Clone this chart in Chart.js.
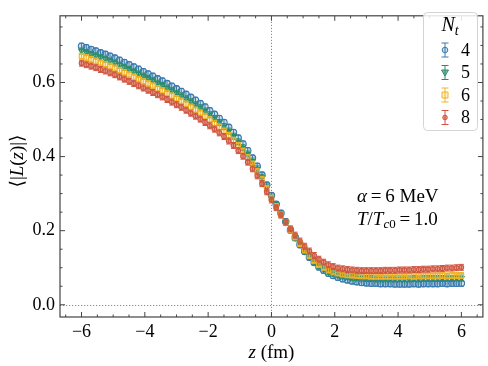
<!DOCTYPE html>
<html>
<head>
<meta charset="utf-8">
<script src="https://cdn.jsdelivr.net/npm/chart.js@4.4.1/dist/chart.umd.min.js"></script>
<style>
  body { margin: 0; background: #fff; }
</style>
</head>
<body>
<canvas id="chart" width="488" height="366"></canvas>
<script>
// z positions (fm)
var zValues = [-6.00, -5.85, -5.70, -5.55, -5.40, -5.25, -5.10, -4.95, -4.80, -4.65,
  -4.50, -4.35, -4.20, -4.05, -3.90, -3.75, -3.60, -3.45, -3.30, -3.15,
  -3.00, -2.85, -2.70, -2.55, -2.40, -2.25, -2.10, -1.95, -1.80, -1.65,
  -1.50, -1.35, -1.20, -1.05, -0.90, -0.75, -0.60, -0.45, -0.30, -0.15,
  0.00, 0.15, 0.30, 0.45, 0.60, 0.75, 0.90, 1.05, 1.20, 1.35,
  1.50, 1.65, 1.80, 1.95, 2.10, 2.25, 2.40, 2.55, 2.70, 2.85,
  3.00, 3.15, 3.30, 3.45, 3.60, 3.75, 3.90, 4.05, 4.20, 4.35,
  4.50, 4.65, 4.80, 4.95, 5.10, 5.25, 5.40, 5.55, 5.70, 5.85, 6.00];

// <|L(z)|> for each N_t
var nt4 = [0.698, 0.694, 0.689, 0.685, 0.680, 0.676, 0.671, 0.666, 0.660, 0.654,
  0.648, 0.642, 0.636, 0.629, 0.623, 0.617, 0.610, 0.604, 0.597, 0.590,
  0.583, 0.576, 0.568, 0.560, 0.552, 0.543, 0.534, 0.524, 0.514, 0.503,
  0.492, 0.479, 0.465, 0.450, 0.434, 0.416, 0.396, 0.374, 0.350, 0.323,
  0.295, 0.271, 0.247, 0.224, 0.202, 0.181, 0.162, 0.144, 0.128, 0.114,
  0.102, 0.093, 0.085, 0.079, 0.074, 0.070, 0.067, 0.064, 0.062, 0.060,
  0.059, 0.058, 0.058, 0.057, 0.057, 0.057, 0.056, 0.056, 0.056, 0.056,
  0.057, 0.056, 0.057, 0.057, 0.057, 0.057, 0.058, 0.057, 0.058, 0.058, 0.058];

var nt5 = [0.685, 0.681, 0.676, 0.672, 0.667, 0.663, 0.658, 0.653, 0.647, 0.641,
  0.635, 0.629, 0.623, 0.617, 0.611, 0.605, 0.598, 0.592, 0.585, 0.578,
  0.571, 0.564, 0.556, 0.548, 0.540, 0.532, 0.523, 0.513, 0.503, 0.492,
  0.481, 0.469, 0.455, 0.440, 0.424, 0.407, 0.388, 0.367, 0.344, 0.318,
  0.291, 0.268, 0.245, 0.223, 0.202, 0.182, 0.164, 0.146, 0.131, 0.117,
  0.106, 0.097, 0.090, 0.085, 0.081, 0.078, 0.076, 0.074, 0.073, 0.072,
  0.071, 0.071, 0.070, 0.070, 0.070, 0.070, 0.070, 0.070, 0.070, 0.070,
  0.071, 0.070, 0.071, 0.071, 0.071, 0.071, 0.071, 0.072, 0.071, 0.072, 0.072];

var nt6 = [0.671, 0.667, 0.662, 0.658, 0.653, 0.649, 0.644, 0.639, 0.633, 0.627,
  0.621, 0.615, 0.609, 0.603, 0.597, 0.591, 0.584, 0.578, 0.571, 0.564,
  0.557, 0.550, 0.542, 0.534, 0.526, 0.518, 0.509, 0.500, 0.490, 0.480,
  0.469, 0.457, 0.444, 0.430, 0.415, 0.398, 0.380, 0.360, 0.338, 0.314,
  0.288, 0.265, 0.243, 0.222, 0.202, 0.183, 0.165, 0.148, 0.133, 0.120,
  0.109, 0.101, 0.094, 0.089, 0.086, 0.083, 0.081, 0.080, 0.079, 0.078,
  0.078, 0.077, 0.077, 0.077, 0.077, 0.077, 0.077, 0.077, 0.077, 0.078,
  0.077, 0.078, 0.078, 0.078, 0.078, 0.078, 0.079, 0.078, 0.079, 0.079, 0.079];

var nt8 = [0.652, 0.648, 0.644, 0.640, 0.635, 0.631, 0.626, 0.621, 0.615, 0.609,
  0.603, 0.597, 0.591, 0.585, 0.579, 0.573, 0.567, 0.561, 0.554, 0.547,
  0.540, 0.533, 0.525, 0.517, 0.509, 0.501, 0.492, 0.483, 0.474, 0.464,
  0.454, 0.442, 0.430, 0.416, 0.401, 0.385, 0.367, 0.348, 0.327, 0.305,
  0.283, 0.262, 0.242, 0.223, 0.205, 0.188, 0.172, 0.158, 0.145, 0.133,
  0.123, 0.115, 0.108, 0.103, 0.099, 0.097, 0.095, 0.094, 0.093, 0.092,
  0.092, 0.092, 0.092, 0.092, 0.093, 0.093, 0.093, 0.094, 0.094, 0.094,
  0.095, 0.095, 0.096, 0.096, 0.097, 0.097, 0.098, 0.099, 0.099, 0.100, 0.101];

var ntLabels = ['4', '5', '6', '8'];
var errSizes = [0.008, 0.008, 0.008, 0.008];
var xTickValues = [-6, -4, -2, 0, 2, 4, 6];
var yTickValues = [0.0, 0.2, 0.4, 0.6];

var colors = ['#3a7ab0', '#2a8d69', '#f0b325', '#cf5540'];
var fills = ['rgba(58,122,176,0.25)', 'rgba(42,141,105,0.6)', 'rgba(240,179,37,0.2)', 'rgba(207,85,64,0.6)'];
var serif = "'Liberation Serif', 'DejaVu Serif', serif";

function points(ys) {
    return ys.map(function (y, i) { return { x: zValues[i], y: y }; });
}

// draw a list of text pieces with their own fonts, centred or left aligned
function drawRuns(ctx, runs, x, y, align) {
    var total = 0;
    runs.forEach(function (r) { ctx.font = r.f; total += ctx.measureText(r.t).width; });
    var cx = align === 'center' ? x - total / 2 : x;
    ctx.textAlign = 'left';
    ctx.textBaseline = 'alphabetic';
    runs.forEach(function (r) {
        ctx.font = r.f;
        ctx.fillText(r.t, cx, y + (r.dy || 0));
        cx += ctx.measureText(r.t).width;
    });
}

function drawMarker(ctx, i, x, y) {
    ctx.save();
    ctx.strokeStyle = colors[i];
    ctx.fillStyle = fills[i];
    ctx.lineWidth = 1;
    ctx.beginPath();
    if (i === 0) {
        ctx.arc(x, y, 2.8, 0, Math.PI * 2);
    } else if (i === 1) {
        ctx.moveTo(x - 3.5, y - 2.5); ctx.lineTo(x + 3.5, y - 2.5); ctx.lineTo(x, y + 3.5); ctx.closePath();
    } else if (i === 2) {
        ctx.rect(x - 3, y - 3, 6, 6);
    } else {
        ctx.arc(x, y, 2.3, 0, Math.PI * 2);
    }
    ctx.fill();
    ctx.stroke();
    ctx.restore();
}

var decorPlugin = {
    id: 'decor',
    beforeDatasetsDraw: function (chart) {
        var ctx = chart.ctx, a = chart.chartArea;
        var xs = chart.scales.x, ys = chart.scales.y;
        ctx.save();
        ctx.strokeStyle = '#8a8a8a';
        ctx.lineWidth = 1;
        ctx.setLineDash([1.2, 1.8]);
        var x0 = Math.round(xs.getPixelForValue(0)) + 0.5;
        var y0 = Math.round(ys.getPixelForValue(0)) + 0.5;
        ctx.beginPath();
        ctx.moveTo(x0, a.top); ctx.lineTo(x0, a.bottom);
        ctx.moveTo(a.left, y0); ctx.lineTo(a.right, y0);
        ctx.stroke();
        ctx.restore();
    },
    beforeDatasetDraw: function (chart, args) {
        // error bars under the markers
        var ctx = chart.ctx, ys = chart.scales.y;
        var i = args.index, err = errSizes[i];
        var data = chart.data.datasets[i].data;
        ctx.save();
        ctx.strokeStyle = colors[i];
        ctx.lineWidth = 1;
        ctx.beginPath();
        args.meta.data.forEach(function (p, k) {
            var yTop = ys.getPixelForValue(data[k].y + err);
            var yBot = ys.getPixelForValue(data[k].y - err);
            ctx.moveTo(p.x, yTop); ctx.lineTo(p.x, yBot);
            ctx.moveTo(p.x - 2.5, yTop); ctx.lineTo(p.x + 2.5, yTop);
            ctx.moveTo(p.x - 2.5, yBot); ctx.lineTo(p.x + 2.5, yBot);
        });
        ctx.stroke();
        ctx.restore();
    },
    afterDraw: function (chart) {
        var ctx = chart.ctx, a = chart.chartArea;
        var xs = chart.scales.x, ys = chart.scales.y;
        ctx.save();

        // frame
        ctx.strokeStyle = '#444';
        ctx.lineWidth = 1.2;
        ctx.strokeRect(a.left, a.top, a.right - a.left, a.bottom - a.top);

        // inward ticks on all four sides
        ctx.lineWidth = 1;
        ctx.beginPath();
        for (var v = -6.5; v <= 6.51; v += 0.5) {
            var px = xs.getPixelForValue(v);
            var len = Math.abs(v % 2) < 1e-6 ? 5 : 2.5;
            ctx.moveTo(px, a.bottom); ctx.lineTo(px, a.bottom - len);
            ctx.moveTo(px, a.top); ctx.lineTo(px, a.top + len);
        }
        for (var w = 0; w <= 15; w++) {
            var val = w * 0.05;
            var py = ys.getPixelForValue(val);
            var ln = w % 4 === 0 ? 5 : 2.5;
            ctx.moveTo(a.left, py); ctx.lineTo(a.left + ln, py);
            ctx.moveTo(a.right, py); ctx.lineTo(a.right - ln, py);
        }
        ctx.stroke();

        ctx.fillStyle = '#000';
        // axis titles
        drawRuns(ctx, [
            { t: 'z', f: 'italic 19px ' + serif },
            { t: ' (fm)', f: '19px ' + serif }
        ], (a.left + a.right) / 2, 358, 'center');

        ctx.save();
        ctx.translate(23, 161);
        ctx.rotate(-Math.PI / 2);
        drawRuns(ctx, [
            { t: '\u27e8|', f: '19px ' + serif },
            { t: 'L', f: 'italic 19px ' + serif },
            { t: '(', f: '19px ' + serif },
            { t: 'z', f: 'italic 19px ' + serif },
            { t: ')|\u27e9', f: '19px ' + serif }
        ], 0, 0, 'center');
        ctx.restore();

        // annotation
        drawRuns(ctx, [
            { t: '\u03b1', f: 'italic 19px ' + serif },
            { t: '\u2009=\u20096 MeV', f: '19px ' + serif }
        ], 357, 202, 'left');
        drawRuns(ctx, [
            { t: 'T', f: 'italic 19px ' + serif },
            { t: '/', f: '19px ' + serif },
            { t: 'T', f: 'italic 19px ' + serif },
            { t: 'c', f: 'italic 13px ' + serif, dy: 3 },
            { t: '0', f: '13px ' + serif, dy: 3 },
            { t: '\u2009=\u20091.0', f: '19px ' + serif }
        ], 357, 225, 'left');

        // legend
        var lx = 423, ly = 12, lw = 54, lh = 118;
        ctx.fillStyle = 'rgba(255,255,255,0.85)';
        ctx.strokeStyle = '#d4d4d4';
        ctx.lineWidth = 1;
        ctx.beginPath();
        ctx.roundRect(lx + 0.5, ly + 0.5, lw, lh, 4);
        ctx.fill();
        ctx.stroke();
        ctx.fillStyle = '#000';
        drawRuns(ctx, [
            { t: 'N', f: 'italic 20px ' + serif },
            { t: 't', f: 'italic 14px ' + serif, dy: 4 }
        ], 450, 31, 'center');
        ntLabels.forEach(function (lab, i) {
            var my = 50 + i * 22.5, mx = 445;
            ctx.strokeStyle = colors[i];
            ctx.lineWidth = 1;
            ctx.beginPath();
            ctx.moveTo(mx, my - 7); ctx.lineTo(mx, my + 7);
            ctx.moveTo(mx - 3.5, my - 7); ctx.lineTo(mx + 3.5, my - 7);
            ctx.moveTo(mx - 3.5, my + 7); ctx.lineTo(mx + 3.5, my + 7);
            ctx.stroke();
            drawMarker(ctx, i, mx, my);
            ctx.fillStyle = '#000';
            ctx.font = '18px ' + serif;
            ctx.textAlign = 'left';
            ctx.textBaseline = 'middle';
            ctx.fillText(lab, 461, my + 1);
        });
        ctx.restore();
    }
};

var datasets = [nt4, nt5, nt6, nt8].map(function (ys, i) {
    var styles = ['circle', 'triangle', 'rect', 'circle'];
    return {
        label: ntLabels[i],
        data: points(ys),
        showLine: false,
        pointStyle: styles[i],
        pointRotation: i === 1 ? 180 : 0,
        pointRadius: i === 3 ? 2.3 : 3.2,
        pointBorderWidth: 1.1,
        pointBorderColor: colors[i],
        pointBackgroundColor: fills[i],
        order: 4 - i
    };
});

new Chart(document.getElementById('chart'), {
    type: 'scatter',
    data: { datasets: datasets },
    options: {
        responsive: false,
        animation: false,
        events: [],
        layout: { padding: { top: 3, right: 3, left: 0, bottom: 0 } },
        plugins: { legend: { display: false }, tooltip: { enabled: false } },
        scales: {
            x: {
                type: 'linear',
                min: -6.68,
                max: 6.68,
                afterFit: function (s) { s.height = 49; },
                afterBuildTicks: function (s) { s.ticks = xTickValues.map(function (v) { return { value: v }; }); },
                grid: { display: false, drawTicks: false },
                border: { display: false },
                ticks: {
                    padding: 4,
                    color: '#000',
                    font: { family: serif, size: 18 },
                    callback: function (v) { return v < 0 ? '\u2212' + Math.abs(v) : String(v); }
                }
            },
            y: {
                type: 'linear',
                min: -0.033,
                max: 0.78,
                afterFit: function (s) { s.width = 60; },
                afterBuildTicks: function (s) { s.ticks = yTickValues.map(function (v) { return { value: v }; }); },
                grid: { display: false, drawTicks: false },
                border: { display: false },
                ticks: {
                    padding: 5,
                    color: '#000',
                    font: { family: serif, size: 18 },
                    callback: function (v) { return Number(v).toFixed(1); }
                }
            }
        }
    },
    plugins: [decorPlugin]
});
</script>
</body>
</html>
